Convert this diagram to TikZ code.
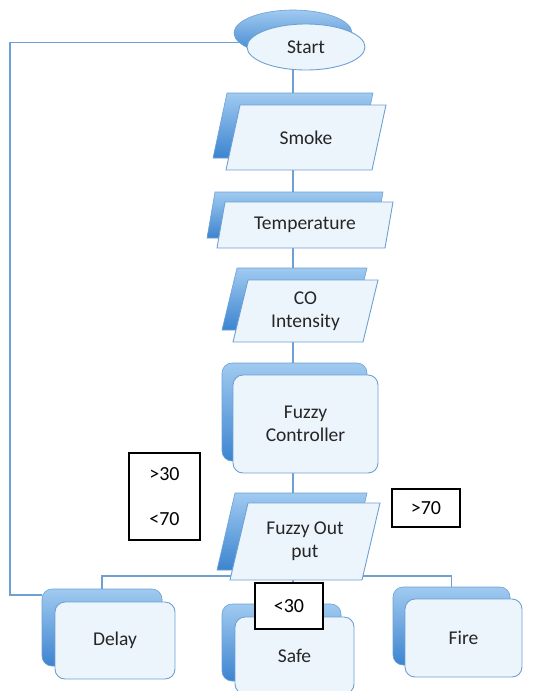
\documentclass[tikz,border=0pt]{standalone}
\usepackage{fontspec}
\setmainfont{Carlito}
\usetikzlibrary{shapes.geometric,backgrounds}
\definecolor{flowline}{RGB}{110,160,212}
\definecolor{bevellight}{RGB}{160,202,240}
\definecolor{beveldark}{RGB}{60,132,208}
\definecolor{facefill}{RGB}{236,244,252}
\begin{document}
\begin{tikzpicture}[x=1pt,y=-1pt]
\tikzset{face/.style = {draw=flowline, fill=facefill, line width=0.9pt, text=black!85, font=\fontsize{19.5}{23}\selectfont}}
\tikzset{bevel/.style = {draw=flowline, top color=bevellight, bottom color=beveldark, line width=0.6pt}}
\tikzset{terminal/.style = {ellipse, minimum width=118pt, minimum height=46pt}}
\tikzset{inout/.style n args = {4}{trapezium, trapezium left angle=#1, trapezium right angle=#2, inner sep=0pt, execute at begin node={\begin{minipage}[c][#4][c]{#3}\centering\leavevmode}, execute at end node={\end{minipage}}}}
\tikzset{process/.style = {rectangle, rounded corners=10pt, align=center}}
\tikzset{tag/.style = {draw=black, fill=white, line width=1.1pt, inner sep=0pt, font=\fontsize{20}{24}\selectfont, align=left}}
\tikzset{edge/.style = {draw=flowline, line width=1.2pt}}
\useasboundingbox (0,0) rectangle (539,691);
% vertices
\node[terminal, bevel] (startb) at (293,33) {};
\node[terminal, face] (start) at (306,47) {Start};
\node[bevel, inout={77.85}{102.15}{132pt}{65pt}] (smokeb) at (293,125.5) {};
\node[face, inout={77.85}{102.15}{132pt}{65pt}] (smoke) at (306,137.5) {Smoke};
\node[bevel, inout={80.13}{99.87}{160pt}{46pt}] (tempb) at (295,215) {};
\node[face, inout={80.13}{99.87}{160pt}{46pt}] (temp) at (305,225) {Temperature};
\node[bevel, inout={76.4}{103.6}{115pt}{62pt}] (cob) at (294.5,299) {};
\node[face, inout={76.4}{103.6}{115pt}{62pt}] (co) at (305.5,311) {CO\\Intensity};
\node[process, bevel, minimum width=145pt, minimum height=98pt] (fuzzyb) at (294.5,412) {};
\node[process, face, minimum width=145pt, minimum height=98pt] (fuzzy) at (305.5,424) {Fuzzy\\Controller};
\node[bevel, inout={76.84}{103.16}{114pt}{77pt}] (outb) at (292,531.5) {};
\node[face, inout={76.84}{103.16}{114pt}{77pt}] (out) at (305,541.5) {Fuzzy Out\\put};
\node[process, bevel, minimum width=120pt, minimum height=77pt] (delayb) at (102,627.5) {};
\node[process, face, minimum width=120pt, minimum height=77pt] (delay) at (115,640.5) {Delay};
\node[process, bevel, minimum width=119pt, minimum height=77pt] (safeb) at (281.5,642.5) {};
\node[process, face, minimum width=119pt, minimum height=77pt] (safe) at (294.5,655.5) {Safe};
\node[process, bevel, minimum width=117pt, minimum height=78pt] (fireb) at (451.5,626) {};
\node[process, face, minimum width=117pt, minimum height=78pt] (fire) at (463.5,638) {Fire};
% labels
\node[tag, minimum width=71pt, minimum height=87pt] (lmid) at (164.5,496.5) {>30\\[21pt]<70};
\node[tag, minimum width=68pt, minimum height=38pt] (lfire) at (426,508) {>70};
\node[tag, minimum width=68pt, minimum height=46pt] (lsafe) at (289,606) {<30};
\coordinate (branch) at (292,576);
\coordinate (loopend) at (10,595);
%edges
\begin{scope}[on background layer]
\draw[edge] (startb.center) -- (startb.center |- lsafe.north);
\draw[edge] (delayb.north) -- (delayb.north |- branch) -- (fireb.north |- branch) -- (fireb.north);
\draw[edge] (startb.190) -| (loopend) -- (loopend -| delayb.west);
\end{scope}
\end{tikzpicture}
\end{document}
